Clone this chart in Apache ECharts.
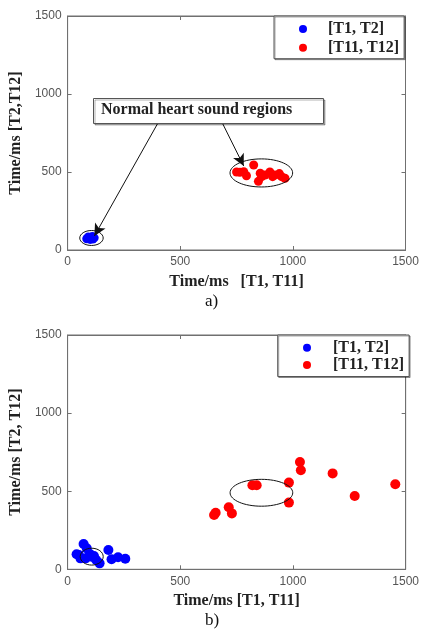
<!DOCTYPE html>
<html>
<head>
<meta charset="utf-8">
<script src="https://cdn.jsdelivr.net/npm/echarts@6/dist/echarts.min.js"></script>
<style>
html, body { margin: 0; padding: 0; background: #fff; }
#main { width: 422px; height: 629px; }
</style>
</head>
<body>
<div id="main"></div>
<script>
// ---------------------------------------------------------------
// data
// ---------------------------------------------------------------
var axisTicks = [0, 500, 1000, 1500];
var seriesNames = ['[T1, T2]', '[T11, T12]'];

// a) normal heart sounds
var blueA = [[85, 72], [95, 80], [105, 75], [110, 86], [118, 78], [100, 68], [92, 84], [112, 70]];
var redA = [[750, 500], [765, 498], [782, 502], [794, 476], [826, 545], [855, 492], [847, 440],
	[862, 470], [876, 481], [898, 500], [910, 470], [920, 481], [940, 490], [950, 470], [965, 460]];
// ellipse: [cx, cy, rx, ry]
var ellipsesA = [[106, 77, 52, 48], [860, 494, 139, 90]];
// arrows: [x1, y1, x2, y2]
var arrowsA = [[401, 814, 119, 90], [687, 814, 782, 538]];

// b)
var blueB = [[40, 96], [57, 70], [71, 162], [85, 134], [80, 70], [50, 92], [99, 98], [117, 85],
	[127, 60], [142, 38], [181, 124], [195, 64], [224, 77], [256, 67], [106, 80]];
var redB = [[650, 348], [657, 362], [715, 397], [729, 358], [820, 538], [839, 538], [982, 555],
	[982, 427], [1031, 687], [1035, 634], [1176, 614], [1274, 469], [1454, 544]];
var ellipsesB = [[107, 81, 51, 54], [860, 490, 139, 86]];

// ---------------------------------------------------------------
// styles
// ---------------------------------------------------------------
var serif = '"Liberation Serif", "Times New Roman", serif';
var sans = '"Liberation Sans", Arial, sans-serif';
var boxColor = '#707070';

function valueAxis(gridIndex, pos, name, nameGap, showLabel) {
	return {
		type: 'value',
		gridIndex: gridIndex,
		position: pos,
		min: axisTicks[0],
		max: axisTicks[axisTicks.length - 1],
		interval: axisTicks[1] - axisTicks[0],
		name: name,
		nameLocation: 'middle',
		nameGap: nameGap,
		nameTextStyle: { fontFamily: serif, fontWeight: 'bold', fontSize: 16, color: '#222' },
		axisLine: { show: true, onZero: false, lineStyle: { color: boxColor, width: 1 } },
		axisTick: { show: true, inside: true, length: 4, lineStyle: { color: boxColor } },
		axisLabel: {
			show: showLabel, fontFamily: sans, fontSize: 12, color: '#555', margin: 6,
			formatter: function (v) { return String(v); }
		},
		splitLine: { show: false }
	};
}

function scatter(name, xi, data, size) {
	return {
		name: name,
		type: 'scatter',
		xAxisIndex: xi,
		yAxisIndex: xi,
		symbol: 'circle',
		symbolSize: size,
		itemStyle: { color: name == seriesNames[0] ? '#0000ff' : '#ff0000', opacity: 1 },
		data: data,
		silent: true
	};
}

function ellipseSeries(xi, data) {
	return {
		type: 'custom',
		xAxisIndex: xi,
		yAxisIndex: xi,
		silent: true,
		z: 3,
		data: data,
		renderItem: function (params, api) {
			var c = api.coord([api.value(0), api.value(1)]);
			var s = api.size([api.value(2), api.value(3)]);
			return {
				type: 'ellipse',
				shape: { cx: c[0], cy: c[1], rx: s[0], ry: s[1] },
				style: { fill: 'none', stroke: '#111', lineWidth: 1 }
			};
		}
	};
}

function arrowSeries(xi, data) {
	var lines = [];
	for (var i = 0; i < data.length; i++) {
		lines.push([{ coord: [data[i][0], data[i][1]] }, { coord: [data[i][2], data[i][3]] }]);
	}
	return {
		type: 'scatter',
		xAxisIndex: xi,
		yAxisIndex: xi,
		data: [],
		silent: true,
		markLine: {
			silent: true,
			animation: false,
			symbol: ['none', 'arrow'],
			symbolSize: [9, 12],
			label: { show: false },
			lineStyle: { color: '#111', width: 1, type: 'solid' },
			emphasis: { disabled: true },
			data: lines
		}
	};
}

// icon centre / text start are set through padding
function legendBox(left, top, gap, padTop, padBottom, padLeft, textPad) {
	return {
		orient: 'vertical',
		left: left,
		top: top,
		data: seriesNames,
		icon: 'circle',
		itemWidth: 8,
		itemHeight: 8,
		itemGap: gap,
		padding: [padTop, 5, padBottom, padLeft],
		borderColor: '#555',
		borderWidth: 1,
		backgroundColor: '#fff',
		shadowColor: 'rgba(0,0,0,0.35)',
		shadowOffsetX: 1,
		shadowOffsetY: 1,
		selectedMode: false,
		textStyle: {
			fontFamily: serif, fontWeight: 'bold', fontSize: 16, color: '#222',
			lineHeight: 16, padding: [0, 0, 0, textPad]
		}
	};
}

var myChart = echarts.init(document.getElementById('main'), null, { renderer: 'canvas' });

var option = {
	animation: false,
	backgroundColor: '#fff',
	grid: [
		{ left: 59.5, top: 16, width: 346, height: 234, show: true, borderColor: boxColor, borderWidth: 1 },
		{ left: 58.3, top: 335, width: 352, height: 234.3, show: true, borderColor: boxColor, borderWidth: 1 }
	],
	xAxis: [
		valueAxis(0, 'bottom', 'Time/ms   [T1, T11]', 24, true),
		valueAxis(1, 'bottom', 'Time/ms [T1, T11]', 24, true),
		valueAxis(0, 'top', '', 0, false),
		valueAxis(1, 'top', '', 0, false)
	],
	yAxis: [
		valueAxis(0, 'left', 'Time/ms [T2,T12]', 33, true),
		valueAxis(1, 'left', 'Time/ms [T2, T12]', 33, true),
		valueAxis(0, 'right', '', 0, false),
		valueAxis(1, 'right', '', 0, false)
	],
	legend: [
		legendBox(274, 16, 2.7, 5, 3, 25, 16),
		legendBox(277.7, 335, 1.3, 4.7, 3.5, 25.3, 17)
	],
	series: [
		scatter(seriesNames[0], 0, blueA, 9),
		scatter(seriesNames[1], 0, redA, 9),
		ellipseSeries(0, ellipsesA),
		arrowSeries(0, arrowsA),
		scatter(seriesNames[0], 1, blueB, 10),
		scatter(seriesNames[1], 1, redB, 10),
		ellipseSeries(1, ellipsesB)
	],
	graphic: [
		{
			type: 'rect',
			left: 93,
			top: 98,
			shape: { width: 230, height: 25 },
			style: { fill: '#fff', stroke: '#555', lineWidth: 1, shadowColor: 'rgba(0,0,0,0.3)', shadowOffsetX: 1.5, shadowOffsetY: 1.5 },
			z: 10
		},
		{
			type: 'text',
			left: 101,
			top: 102,
			style: { text: 'Normal heart sound regions', fontFamily: serif, fontWeight: 'bold', fontSize: 16, fill: '#222' },
			z: 11
		},
		{
			type: 'text',
			left: 205,
			top: 293,
			style: { text: 'a)', fontFamily: serif, fontSize: 17, fill: '#111' }
		},
		{
			type: 'text',
			left: 205,
			top: 612,
			style: { text: 'b)', fontFamily: serif, fontSize: 17, fill: '#111' }
		}
	]
};
myChart.setOption(option);
</script>
</body>
</html>
